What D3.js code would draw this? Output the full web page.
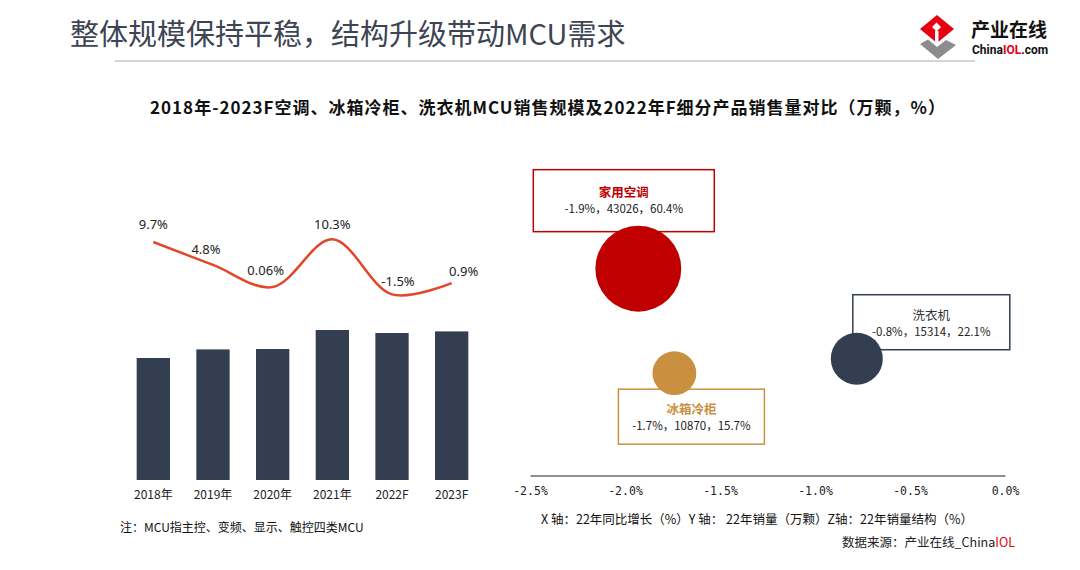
<!DOCTYPE html>
<html>
<head>
<meta charset="utf-8">
<script src="https://cdn.jsdelivr.net/npm/d3@7"></script>
<style>
  body { margin: 0; background: #fff; }
  svg { display: block; font-family: "Noto Sans CJK SC", "Noto Sans", sans-serif; }
</style>
</head>
<body>
<svg class="main"></svg>
<script>
// bar + line data
let years = ['2018年', '2019年', '2020年', '2021年', '2022F', '2023F'];
let sales = [61000, 65300, 65500, 75000, 73500, 74300];
let growth = [9.7, 4.8, 0.06, 10.3, -1.5, 0.9];
let growthLabels = ['9.7%', '4.8%', '0.06%', '10.3%', '-1.5%', '0.9%'];

// bubble data (2022F)
let products = ['家用空调', '冰箱冷柜', '洗衣机'];
let yoy = [-1.93, -1.74, -0.78];
let volume = [43026, 10870, 15314];
let share = [60.4, 15.7, 22.1];
let bubbleLabels = ['-1.9%，43026，60.4%', '-1.7%，10870，15.7%', '-0.8%，15314，22.1%'];
let xTicks = [-2.5, -2.0, -1.5, -1.0, -0.5, 0.0];

let w = 1080, h = 570;
let dark = '#333F50', red = '#C00000', tan = '#C9913F';
let bubbleColors = [red, tan, dark];

let svg = d3.select('.main').attr('width', w).attr('height', h);

// ---- header ----
svg.append('text')
    .attr('x', 70).attr('y', 45)
    .attr('font-size', 29)
    .attr('fill', '#3D4453')
    .text('整体规模保持平稳，结构升级带动MCU需求');

svg.append('line')
    .attr('x1', 115).attr('x2', 975)
    .attr('y1', 61).attr('y2', 61)
    .attr('stroke', '#c8c8c8').attr('stroke-width', 1.5);

// logo
let logo = svg.append('g');
logo.append('polygon').attr('points', '920,29 937,15 954,29 937,43').attr('fill', '#E60012');
logo.append('polygon').attr('points', '932,27 936.5,22.5 941,27 936.5,31.5').attr('fill', '#fff');
logo.append('rect').attr('x', 935).attr('y', 31).attr('width', 3.5).attr('height', 12).attr('fill', '#fff');
logo.append('polygon').attr('points', '920,44 928,39.5 937,47 946,40 956,45 938,59').attr('fill', '#8c8c8c');
logo.append('text').attr('x', 971).attr('y', 37)
    .attr('font-size', 19).attr('font-weight', 'bold').attr('fill', '#111')
    .text('产业在线');
let lt = logo.append('text').attr('x', 972).attr('y', 54)
    .attr('font-size', 12).attr('font-weight', 'bold').attr('fill', '#111')
    .attr('font-family', 'Roboto, sans-serif');
lt.append('tspan').text('China');
lt.append('tspan').attr('fill', '#E60012').text('IOL');
lt.append('tspan').text('.com');

// chart title
svg.append('text')
    .attr('x', 548).attr('y', 114)
    .attr('text-anchor', 'middle')
    .attr('font-size', 17).attr('font-weight', 'bold').attr('fill', '#111')
    .attr('letter-spacing', 1)
    .text('2018年-2023F空调、冰箱冷柜、洗衣机MCU销售规模及2022年F细分产品销售量对比（万颗，%）');

// ---- left: bars + growth line ----
let x = d3.scaleBand().domain(years).range([110.3, 494.7]).padding(0.442);
let y = d3.scaleLinear().domain([0, 75000]).range([480, 330]);
let yG = d3.scaleLinear().domain([-4, 12]).range([306, 231.3]);

svg.selectAll('rect.bar')
    .data(years)
    .enter()
    .append('rect')
    .attr('class', 'bar')
    .attr('x', d => x(d))
    .attr('y', (d, i) => y(sales[i]))
    .attr('width', x.bandwidth())
    .attr('height', (d, i) => y(0) - y(sales[i]))
    .attr('fill', dark);

let xAxis = svg.append('g')
    .attr('transform', 'translate(0,480)')
    .call(d3.axisBottom(x).tickSize(0).tickPadding(10));
xAxis.select('.domain').remove();
xAxis.selectAll('text')
    .attr('font-size', 12)
    .attr('fill', '#222')
    .attr('font-family', '"Noto Sans CJK SC", sans-serif');

let line = d3.line()
    .x((d, i) => x(years[i]) + x.bandwidth() / 2)
    .y(d => yG(d))
    .curve(d3.curveCatmullRom.alpha(0.5));

svg.append('path')
    .datum(growth)
    .attr('d', line)
    .attr('fill', 'none')
    .attr('stroke', '#E2472A')
    .attr('stroke-width', 2.5);

// label nudges (as in the original slide)
let nudge = [[0, -13], [-7, -11], [-7, -12], [0, -10], [6, -8], [12, -7]];
svg.selectAll('text.glab')
    .data(growth)
    .enter()
    .append('text')
    .attr('class', 'glab')
    .attr('x', (d, i) => x(years[i]) + x.bandwidth() / 2 + nudge[i][0])
    .attr('y', (d, i) => yG(d) + nudge[i][1])
    .attr('text-anchor', 'middle')
    .attr('font-size', 13)
    .attr('fill', '#222')
    .attr('font-family', '"Noto Sans", sans-serif')
    .text((d, i) => growthLabels[i]);

svg.append('text')
    .attr('x', 120).attr('y', 532)
    .attr('font-size', 12).attr('fill', '#111')
    .text('注：MCU指主控、变频、显示、触控四类MCU');

// ---- right: bubble chart ----
let bx = d3.scaleLinear().domain([-2.5, 0]).range([530, 1005]);
let by = d3.scaleLinear().domain([-20000, 60000]).range([473.5, 213.5]);
let br = d3.scaleSqrt().domain([0, 100]).range([0, 55.3]);

let bAxis = svg.append('g')
    .attr('transform', 'translate(0,475.5)')
    .call(d3.axisBottom(bx).tickValues(xTicks).tickSize(0).tickPadding(11)
        .tickFormat(d => d3.format('.1f')(d).replace('−', '-') + '%'));
bAxis.select('.domain').attr('stroke', '#222').attr('stroke-width', 1.2);
bAxis.selectAll('text')
    .attr('font-size', 11.5)
    .attr('fill', '#222')
    .attr('font-family', '"DejaVu Sans Mono", monospace');

// annotation boxes, offsets from bubble centre
let boxes = [
    { dx: -105, dy: -99, w: 181, h: 62 },
    { dx: -56, dy: 16, w: 146, h: 55 },
    { dx: -4, dy: -64, w: 157, h: 55 }
];

let ann = svg.selectAll('g.ann')
    .data(products)
    .enter()
    .append('g')
    .attr('class', 'ann')
    .attr('transform', (d, i) => `translate(${bx(yoy[i]) + boxes[i].dx},${by(volume[i]) + boxes[i].dy})`);

ann.append('rect')
    .attr('width', (d, i) => boxes[i].w)
    .attr('height', (d, i) => boxes[i].h)
    .attr('fill', '#fff')
    .attr('stroke', (d, i) => bubbleColors[i])
    .attr('stroke-width', 1.5);

ann.append('text')
    .attr('x', (d, i) => boxes[i].w / 2)
    .attr('y', (d, i) => i === 0 ? 27 : 25)
    .attr('text-anchor', 'middle')
    .attr('font-size', 12.5)
    .attr('font-weight', (d, i) => i === 2 ? 'normal' : 'bold')
    .attr('fill', (d, i) => i === 2 ? '#333' : bubbleColors[i])
    .text(d => d);

ann.append('text')
    .attr('x', (d, i) => boxes[i].w / 2)
    .attr('y', (d, i) => i === 0 ? 43 : 41)
    .attr('text-anchor', 'middle')
    .attr('font-size', 11.5)
    .attr('fill', '#222')
    .text((d, i) => bubbleLabels[i]);

svg.selectAll('circle.bub')
    .data(products)
    .enter()
    .append('circle')
    .attr('class', 'bub')
    .attr('cx', (d, i) => bx(yoy[i]))
    .attr('cy', (d, i) => by(volume[i]))
    .attr('r', (d, i) => br(share[i]))
    .attr('fill', (d, i) => bubbleColors[i]);

svg.append('text')
    .attr('x', 541).attr('y', 524)
    .attr('font-size', 12.5).attr('fill', '#111')
    .text('X 轴：22年同比增长（%）Y 轴： 22年销量（万颗）Z轴：22年销量结构（%）');

let src = svg.append('text')
    .attr('x', 1015).attr('y', 547)
    .attr('text-anchor', 'end')
    .attr('font-size', 12.5).attr('fill', '#222');
src.append('tspan').text('数据来源：产业在线_China');
src.append('tspan').attr('fill', '#E60012').text('IOL');
</script>
</body>
</html>
